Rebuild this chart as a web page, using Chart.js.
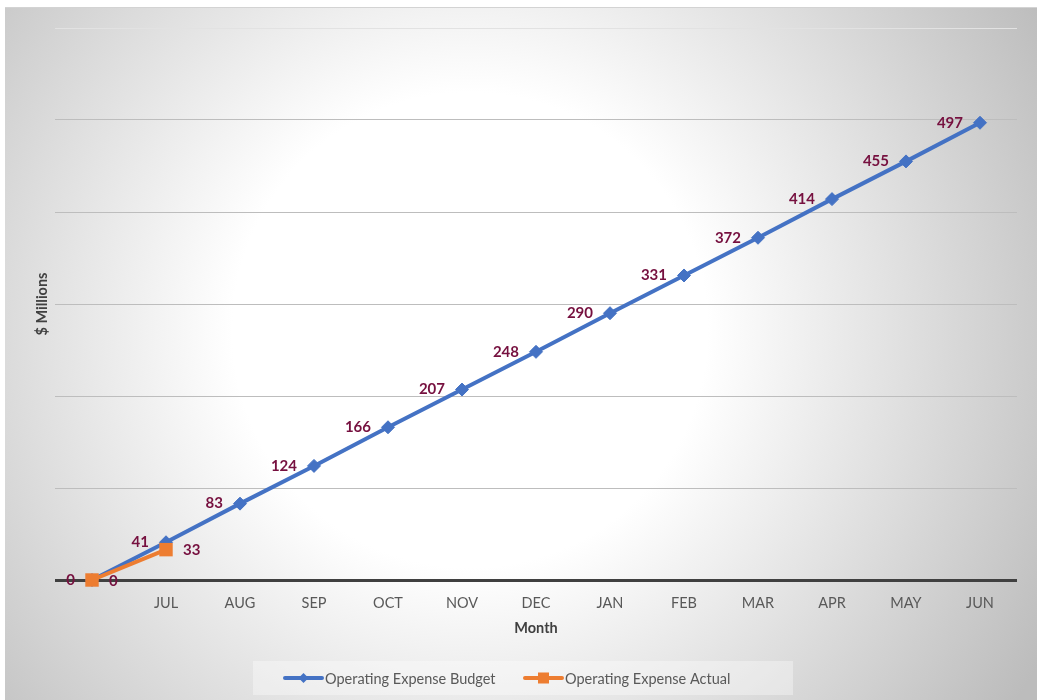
<!DOCTYPE html>
<html>
<head>
<meta charset="utf-8">
<script src="https://cdn.jsdelivr.net/npm/chart.js@4.4.0/dist/chart.umd.min.js"></script>
<style>
  html, body { margin: 0; padding: 0; background: #ffffff; }
  canvas { display: block; }
</style>
</head>
<body>
<canvas id="chart" width="1037" height="700"></canvas>
<script>
// Fiscal-year months (first slot is the opening point)
const months = ['', 'JUL', 'AUG', 'SEP', 'OCT', 'NOV', 'DEC', 'JAN', 'FEB', 'MAR', 'APR', 'MAY', 'JUN'];
// Cumulative operating expense, $ millions
const budgetValues = [0, 41, 83, 124, 166, 207, 248, 290, 331, 372, 414, 455, 497];
const actualValues = [0, 33];
const seriesNames = ['Operating Expense Budget', 'Operating Expense Actual'];
const axisTitles = { x: 'Month', y: '$ Millions' };
const yRange = { min: 0, max: 600, step: 100 };

const BLUE = '#4472C4';
const ORANGE = '#ED7D31';
const LABEL_COLOR = '#76103F';
const TEXT_COLOR = '#595959';
const FONT = 'Lato, "Open Sans", sans-serif';

// Soft radial backdrop behind the whole chart
const backdrop = {
  id: 'backdrop',
  beforeDraw(chart) {
    const ctx = chart.ctx;
    const w = chart.width, h = chart.height;
    ctx.save();
    ctx.fillStyle = '#ffffff';
    ctx.fillRect(0, 0, w, h);
    const g = ctx.createRadialGradient(470, 330, 0, 470, 330, 660);
    g.addColorStop(0, '#ffffff');
    g.addColorStop(0.36, '#ffffff');
    g.addColorStop(1, '#bcbcbc');
    ctx.fillStyle = g;
    ctx.fillRect(5, 8, w - 5, h - 8);
    ctx.fillStyle = 'rgba(200,200,200,0.8)';
    ctx.fillRect(5, 7, w - 5, 1);
    ctx.restore();
  }
};

// Value labels: budget to the left of each point, actual to the right
const valueLabels = {
  id: 'valueLabels',
  afterDatasetsDraw(chart) {
    const ctx = chart.ctx;
    ctx.save();
    ctx.font = 'bold 15px ' + FONT;
    ctx.fillStyle = LABEL_COLOR;
    ctx.textBaseline = 'middle';
    chart.data.datasets.forEach((ds, i) => {
      const meta = chart.getDatasetMeta(i);
      const side = ds.labelSide;
      meta.data.forEach((pt, j) => {
        const v = ds.data[j];
        if (v === null || v === undefined) return;
        if (side === 'left') {
          ctx.textAlign = 'right';
          ctx.fillText(String(v), pt.x - 17, pt.y);
        } else {
          ctx.textAlign = 'left';
          ctx.fillText(String(v), pt.x + 17, pt.y + 1);
        }
      });
    });
    ctx.restore();
  }
};

// Legend strip at the bottom with line + marker swatches
const legendStrip = {
  id: 'legendStrip',
  afterDraw(chart) {
    const ctx = chart.ctx;
    ctx.save();
    ctx.fillStyle = 'rgba(255,255,255,0.35)';
    ctx.fillRect(253, 661, 540, 34);
    const cy = 678;
    const items = [
      { x: 285, color: BLUE, marker: 'diamond', text: seriesNames[0] },
      { x: 525, color: ORANGE, marker: 'square', text: seriesNames[1] }
    ];
    items.forEach(it => {
      ctx.strokeStyle = it.color;
      ctx.lineWidth = 4;
      ctx.lineCap = 'round';
      ctx.beginPath();
      ctx.moveTo(it.x, cy);
      ctx.lineTo(it.x + 37, cy);
      ctx.stroke();
      ctx.fillStyle = it.color;
      const mx = it.x + 18.5;
      ctx.beginPath();
      if (it.marker === 'diamond') {
        ctx.moveTo(mx, cy - 5);
        ctx.lineTo(mx + 5, cy);
        ctx.lineTo(mx, cy + 5);
        ctx.lineTo(mx - 5, cy);
        ctx.closePath();
        ctx.fill();
      } else {
        ctx.fillRect(mx - 5.5, cy - 5.5, 11, 11);
      }
      ctx.fillStyle = TEXT_COLOR;
      ctx.font = '14.5px ' + FONT;
      ctx.textAlign = 'left';
      ctx.textBaseline = 'middle';
      ctx.fillText(it.text, it.x + 40, cy + 1);
    });
    ctx.restore();
  }
};

new Chart(document.getElementById('chart'), {
  type: 'line',
  data: {
    labels: months,
    datasets: [
      {
        label: seriesNames[0],
        data: budgetValues,
        borderColor: BLUE,
        backgroundColor: BLUE,
        borderWidth: 4,
        pointStyle: 'rectRot',
        pointRadius: 6.5,
        pointBorderWidth: 1,
        pointBackgroundColor: BLUE,
        pointBorderColor: BLUE,
        tension: 0,
        clip: false,
        order: 2,
        labelSide: 'left'
      },
      {
        label: seriesNames[1],
        data: actualValues,
        borderColor: ORANGE,
        backgroundColor: ORANGE,
        borderWidth: 4,
        pointStyle: 'rect',
        pointRadius: 9.5,
        pointBorderWidth: 0,
        pointBackgroundColor: ORANGE,
        tension: 0,
        clip: false,
        order: 1,
        labelSide: 'right'
      }
    ]
  },
  options: {
    responsive: false,
    animation: false,
    devicePixelRatio: 1,
    layout: { padding: { top: 28, right: 20, bottom: 60, left: 0 } },
    plugins: {
      legend: { display: false },
      tooltip: { enabled: false }
    },
    scales: {
      x: {
        offset: true,
        grid: { display: false, drawTicks: false },
        border: { display: false },
        ticks: {
          color: TEXT_COLOR,
          font: { family: FONT, size: 14.5 },
          padding: 15,
          maxRotation: 0,
          autoSkip: false
        },
        title: {
          display: true,
          text: axisTitles.x,
          color: '#404040',
          font: { family: FONT, size: 14.5, weight: 'bold', lineHeight: 1.2 },
          padding: { top: 0, bottom: 3.3 }
        },
        afterFit(scale) { scale.height = 60; }
      },
      y: {
        min: yRange.min,
        max: yRange.max,
        ticks: { display: false, stepSize: yRange.step },
        border: { display: false },
        grid: {
          drawTicks: false,
          color: ctx => ctx.tick.value === 0 ? '#404040' : (ctx.tick.value === yRange.max ? '#e2e2e2' : '#bdbdbd'),
          lineWidth: ctx => ctx.tick.value === 0 ? 3 : 1
        },
        title: {
          display: true,
          text: axisTitles.y,
          color: '#404040',
          font: { family: FONT, size: 14.5, weight: 'bold', lineHeight: 1.2 },
          padding: { top: 33.3, bottom: 0 }
        },
        afterFit(scale) { scale.width = 55; }
      }
    }
  },
  plugins: [backdrop, valueLabels, legendStrip]
});
</script>
</body>
</html>
